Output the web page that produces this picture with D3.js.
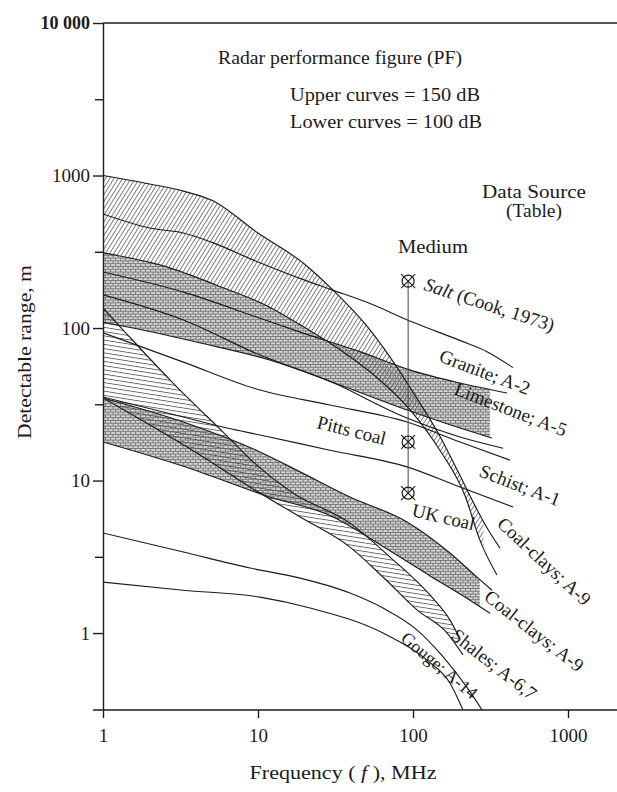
<!DOCTYPE html>
<html>
<head>
<meta charset="utf-8">
<script src="https://cdn.jsdelivr.net/npm/d3@7/dist/d3.min.js"></script>
<style>
  html, body { margin: 0; padding: 0; background: #fff; }
  svg { display: block; }
  text { font-family: "Liberation Serif", "Times New Roman", serif; fill: #1b1b1b; }
</style>
</head>
<body>
<svg id="chart" width="617" height="792"></svg>
<script>
// ---- axis ticks ----
const freqTicks = [1, 10, 100, 1000];
const rangeTicks = [1, 10, 100, 1000, 10000];
const rangeMinorTicks = [3.162, 31.62, 316.2, 3162];

// ---- curves: [frequency (MHz), detectable range (m)] ----
const coalClaysA = [[1,1000],[2,880],[3.3,790],[5,690],[10,420],[20,262],[30,180],[50,104],[70,66],[100,38],[150,19.3],[200,10.9],[250,6.9],[300,4.9],[364,3.6]];
const coalClaysB = [[1,311],[2.6,251],[5.4,191],[11.9,137],[18.7,105],[33.8,72],[61,45.6],[96,29],[149,15.8],[216,8.0],[270,4.07],[348,2.4]];
const salt       = [[1,560],[2,453],[3.3,420],[5,366],[10,271],[20,206],[30,178],[50,148],[100,109],[200,83],[300,70],[442,55]];
const granite    = [[1,233],[3.3,172],[10.3,116],[18.7,94],[45.5,70],[96,53],[201,43.6],[404,37.5]];
const graniteB   = [[1,109],[1.56,100],[4.2,80],[11.9,61.7],[33.8,42.3],[91.5,29],[201,22.1],[323,19]];
const limestone  = [[1,165],[3.3,113],[10.3,66.5],[27.9,45.6],[91.5,25.7],[201,19.3],[381,16.3]];
const limestoneB = [[1,93],[3.3,59.8],[10.3,39.2],[29.1,31.3],[91.5,24.2],[201,17.9],[423,13.6]];
const schist     = [[1,35.3],[3.3,26.1],[6.3,22.1],[10.3,19.9],[29.1,15.8],[91.5,12.3],[201,9.06],[442,6.7]];
const coalClaysC = [[1,34.8],[3.3,24.2],[10.3,15.4],[18.7,11.4],[39.2,7.8],[91.5,5.35],[173,3.35],[263,2.29],[323,1.91]];
const coalClaysD = [[1,17.9],[3.3,12.4],[11.9,7.8],[29.1,5.9],[64,3.7],[129,2.37],[233,1.64],[314,1.35]];
const shales     = [[1,135],[1.35,97],[2.71,45.6],[5.95,20.8],[10.3,12.1],[16.8,8.28],[39.2,5.26],[71.1,3.15],[129,1.77],[173,1.22],[195,0.97]];
const shalesB    = [[1,34.8],[2.01,23.1],[4.22,14.7],[8.88,9.06],[18.7,5.77],[39.2,3.66],[64,2.33],[106,1.42],[166,1.0],[210,0.72]];
const gouge      = [[1,4.53],[3.3,3.4],[8.88,2.67],[18.7,2.29],[39.2,1.83],[64,1.46],[106,1.05],[156,0.70],[223,0.44],[279,0.313]];
const gougeB     = [[1,2.16],[3.3,1.91],[10.3,1.72],[21.7,1.46],[64,1.0],[123,0.665],[173,0.47],[210,0.313]];

// ---- measured media at one frequency ----
const mediumFreq = 93;
const mediumNames = ["Salt", "Pitts coal", "UK coal"];
const mediumRanges = [203, 17.9, 8.28];

// ---- curve labels: [text, frequency, range, angle, font size] ----
const curveLabels = [
  ["Granite; A-2", 145, 60.8, 21, 19],
  ["Limestone; A-5", 181, 36.9, 21, 19],
  ["Pitts coal", 23.7, 22.1, 14, 19],
  ["Schist; A-1", 263, 10.7, 21, 19],
  ["UK coal", 97, 5.85, 13, 19],
  ["Coal-clays; A-9", 343, 5.1, 43, 19],
  ["Coal-clays; A-9", 283, 1.67, 38, 19],
  ["Shales; A-6,7", 173, 0.93, 38, 19],
  ["Gouge; A-14", 82, 0.9, 40, 18]
];

const svg = d3.select("#chart");

const x = d3.scaleLog().domain([1, 2070]).range([103, 617]);
const y = d3.scaleLog().domain([0.313, 10000]).range([710, 23]);

// ---- fill patterns ----
const defs = svg.append("defs");
const pDiag = defs.append("pattern").attr("id", "hatchDiag")
  .attr("patternUnits", "userSpaceOnUse").attr("width", 3.6).attr("height", 3.6)
  .attr("patternTransform", "rotate(32)");
pDiag.append("line").attr("x1", 0.5).attr("y1", 0).attr("x2", 0.5).attr("y2", 3.6)
  .attr("stroke", "#606060").attr("stroke-width", 0.8);

const pHor = defs.append("pattern").attr("id", "hatchHor")
  .attr("patternUnits", "userSpaceOnUse").attr("width", 4).attr("height", 4.2)
  .attr("patternTransform", "rotate(9)");
pHor.append("line").attr("x1", 0).attr("y1", 0.5).attr("x2", 4).attr("y2", 0.5)
  .attr("stroke", "#555").attr("stroke-width", 0.85);

const pDot = defs.append("pattern").attr("id", "dots")
  .attr("patternUnits", "userSpaceOnUse").attr("width", 5).attr("height", 5.6);
pDot.append("rect").attr("width", 5).attr("height", 5.6).attr("fill", "#d6d6d6");
pDot.append("path")
  .attr("d", "M0,0.5H5M0,3.3H5M0.6,0.5V3.3M3.1,3.3V6.1")
  .attr("stroke", "#5c5c5c").attr("stroke-width", 0.75).attr("fill", "none");

defs.append("clipPath").attr("id", "plotClip").append("rect")
  .attr("x", x.range()[0]).attr("y", y.range()[1])
  .attr("width", x.range()[1] - x.range()[0]).attr("height", y.range()[0] - y.range()[1]);

const gFill = svg.append("g").attr("clip-path", "url(#plotClip)");
const gLines = svg.append("g").attr("clip-path", "url(#plotClip)");

const line = d3.line().x(d => x(d[0])).y(d => y(d[1])).curve(d3.curveMonotoneX);

function drawCurve(data) {
  return gLines.append("path").attr("d", line(data))
    .attr("fill", "none").attr("stroke", "#1c1c1c").attr("stroke-width", 1.15).node();
}

// sample a drawn path so bands follow exactly the drawn curves
function sampler(node) {
  const L = node.getTotalLength();
  const pts = [];
  for (let s = 0; s <= L; s += 0.5) { const p = node.getPointAtLength(s); pts.push([p.x, p.y]); }
  const pe = node.getPointAtLength(L); pts.push([pe.x, pe.y]);
  pts.sort((a, b) => a[0] - b[0]);
  const bis = d3.bisector(d => d[0]).left;
  return px => {
    if (px <= pts[0][0]) return pts[0][1];
    if (px >= pts[pts.length - 1][0]) return pts[pts.length - 1][1];
    const i = Math.max(1, bis(pts, px));
    const a = pts[i - 1], b = pts[i];
    const t = (px - a[0]) / ((b[0] - a[0]) || 1);
    return a[1] + t * (b[1] - a[1]);
  };
}

function band(tops, bottoms, fMax, patternId) {
  const x0 = x(1), x1 = x(fMax);
  const xs = d3.range(x0, x1, 1).concat([x1]);
  const pts = xs.map(px => {
    const t = d3.min(tops, s => s(px));
    const b = Math.max(t, d3.max(bottoms, s => s(px)));
    return [px, t, b];
  });
  gFill.append("path")
    .attr("d", d3.area().x(d => d[0]).y0(d => d[1]).y1(d => d[2])(pts))
    .attr("fill", `url(#${patternId})`);
}

const s = {};
s.coalClaysA = sampler(drawCurve(coalClaysA));
s.coalClaysB = sampler(drawCurve(coalClaysB));
s.salt       = sampler(drawCurve(salt));
s.granite    = sampler(drawCurve(granite));
s.graniteB   = sampler(drawCurve(graniteB));
s.limestone  = sampler(drawCurve(limestone));
s.limestoneB = sampler(drawCurve(limestoneB));
s.schist     = sampler(drawCurve(schist));
s.coalClaysC = sampler(drawCurve(coalClaysC));
s.coalClaysD = sampler(drawCurve(coalClaysD));
s.shales     = sampler(drawCurve(shales));
s.shalesB    = sampler(drawCurve(shalesB));
drawCurve(gouge);
drawCurve(gougeB);

// textured bands between paired curves
band([s.coalClaysB, s.granite], [s.graniteB], 314, "dots");
band([s.coalClaysC], [s.coalClaysD], 270, "dots");
band([s.coalClaysA], [s.coalClaysB], 285, "hatchDiag");
band([s.shales], [s.shalesB], 195, "hatchHor");

// ---- axes ----
const fmtRange = d => d === 10000 ? "10 000" : d3.format("d")(d);

const yAxis = svg.append("g").attr("transform", `translate(${x(1)},0)`)
  .call(d3.axisLeft(y).tickValues(rangeTicks).tickSize(10).tickSizeOuter(0).tickPadding(3).tickFormat(fmtRange));
const yMinor = svg.append("g").attr("transform", `translate(${x(1)},0)`)
  .call(d3.axisLeft(y).tickValues(rangeMinorTicks).tickSize(8).tickFormat(""));
yMinor.select(".domain").remove();

const xAxis = svg.append("g").attr("transform", `translate(0,${y.range()[0]})`)
  .call(d3.axisBottom(x).tickValues(freqTicks).tickSize(8).tickSizeOuter(0).tickPadding(11).tickFormat(d3.format("d")));
xAxis.select(".domain").remove();
xAxis.append("line").attr("x1", x(1) - 10).attr("x2", x.range()[1]).attr("y1", 0).attr("y2", 0)
  .attr("stroke", "#1c1c1c").attr("stroke-width", 1.4);

// top frame line
svg.append("line").attr("x1", x(1)).attr("x2", x.range()[1])
  .attr("y1", y(10000)).attr("y2", y(10000)).attr("stroke", "#1c1c1c").attr("stroke-width", 1.4);

[yAxis, yMinor, xAxis].forEach(g => {
  g.selectAll("path,line").attr("stroke", "#1c1c1c").attr("stroke-width", 1.4);
  g.selectAll("text").attr("font-family", '"Liberation Serif", serif').attr("font-size", 19).attr("fill", "#1b1b1b");
});
yAxis.selectAll("text").filter(d => d === 10000).attr("font-weight", "bold").attr("font-size", 18);

// axis titles
svg.append("text").attr("transform", `translate(31,352) rotate(-90)`)
  .attr("text-anchor", "middle").attr("font-size", 19)
  .attr("textLength", 174).attr("lengthAdjust", "spacingAndGlyphs")
  .text("Detectable range, m");

const xTitle = svg.append("text").attr("x", 343).attr("y", 779).attr("text-anchor", "middle")
  .attr("font-size", 19).attr("textLength", 187).attr("lengthAdjust", "spacingAndGlyphs");
xTitle.append("tspan").text("Frequency ( ");
xTitle.append("tspan").attr("font-style", "italic").text("f");
xTitle.append("tspan").text(" ), MHz");

// annotations
const note = (t, px, py, anchor, len) => {
  const e = svg.append("text").attr("x", px).attr("y", py).attr("font-size", 19)
    .attr("text-anchor", anchor || "start").text(t);
  if (len) e.attr("textLength", len).attr("lengthAdjust", "spacingAndGlyphs");
  return e;
};
note("Radar performance figure (PF)", 218, 64, "start", 244);
note("Upper curves = 150 dB", 290, 101, "start", 190);
note("Lower curves = 100 dB", 290, 128, "start", 192);
note("Data Source", 534, 198, "middle", 104);
note("(Table)", 534, 217, "middle", 56);
note("Medium", 398, 253, "start", 70);

// measured media markers on a vertical line
const mx = x(mediumFreq);
svg.append("line").attr("x1", mx).attr("x2", mx)
  .attr("y1", y(d3.max(mediumRanges))).attr("y2", y(d3.min(mediumRanges)))
  .attr("stroke", "#444").attr("stroke-width", 1);
mediumRanges.forEach(r => {
  const g = svg.append("g").attr("transform", `translate(${mx},${y(r)})`);
  g.append("circle").attr("r", 6).attr("fill", "none").attr("stroke", "#1c1c1c").attr("stroke-width", 1.2);
  g.append("path").attr("d", "M-7,-7L7,7M-7,7L7,-7").attr("stroke", "#1c1c1c").attr("stroke-width", 1.1);
});

// salt label (italic medium name, upright source)
const saltLabel = svg.append("text")
  .attr("transform", `translate(${x(116)},${y(178)}) rotate(18)`).attr("font-size", 19);
saltLabel.append("tspan").attr("font-style", "italic").text("Salt");
saltLabel.append("tspan").text(" (Cook, 1973)");

curveLabels.forEach(([t, f, r, a, fs]) => {
  svg.append("text").attr("transform", `translate(${x(f)},${y(r)}) rotate(${a})`)
    .attr("font-size", fs).text(t);
});
</script>
</body>
</html>
